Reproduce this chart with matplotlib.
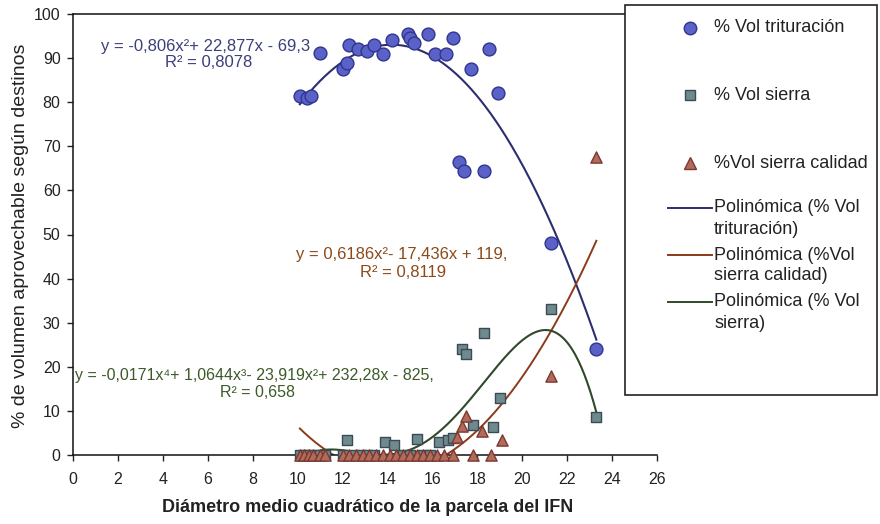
import numpy as np
import matplotlib
matplotlib.use("Agg")
import matplotlib.pyplot as plt
from matplotlib.lines import Line2D
from matplotlib.patches import Rectangle

plt.rcParams['font.family'] = ['Liberation Sans', 'DejaVu Sans']

# ---------------- data ----------------
trit_x = [10.1, 10.4, 10.6, 11.0, 12.0, 12.2, 12.3, 12.7, 13.1, 13.4, 13.8, 14.2, 14.9, 15.0,
          15.2, 15.8, 16.1, 16.6, 16.9, 17.2, 17.4, 17.7, 18.3, 18.5, 18.9, 21.3, 23.3]
trit_y = [81.5, 81.0, 81.5, 91.2, 87.5, 89.0, 93.0, 92.0, 91.5, 93.0, 91.0, 94.0, 95.5, 94.5,
          93.5, 95.5, 91.0, 91.0, 94.5, 66.5, 64.5, 87.5, 64.5, 92.0, 82.0, 48.0, 24.0]

sierra_x = [10.1, 10.3, 10.5, 10.7, 11.0, 11.2, 12.0, 12.2, 12.5, 12.8, 13.1, 13.4, 13.9, 14.3,
            14.7, 15.0, 15.3, 15.6, 15.9, 16.3, 16.7, 16.9, 17.3, 17.5, 17.8, 18.3, 18.7, 19.0,
            21.3, 23.3]
sierra_y = [0, 0, 0, 0, 0, 0, 0, 3.4, 0, 0, 0, 0, 3.0, 2.3,
            0, 0, 3.6, 0, 0, 3.0, 3.4, 3.9, 24.0, 23.0, 6.8, 27.7, 6.4, 13.0,
            33.0, 8.6]

calidad_x = [10.1, 10.3, 10.5, 10.7, 11.0, 11.2, 12.0, 12.3, 12.6, 12.9, 13.2, 13.5, 13.8, 14.1,
             14.4, 14.7, 15.0, 15.3, 15.6, 15.9, 16.2, 16.5, 16.9, 17.1, 17.3, 17.5, 17.8, 18.2,
             18.6, 19.1, 21.3, 23.3]
calidad_y = [0, 0, 0, 0, 0, 0, 0, 0, 0, 0, 0, 0, 0, 0,
             0, 0, 0, 0, 0, 0, 0, 0, 0, 4.0, 6.5, 8.8, 0, 5.5,
             0, 3.5, 18.0, 67.5]

# trendline coefficients as printed on the chart
trit_coef = [-0.806, 22.877, -69.3]
calidad_coef = [0.6186, -17.436, 119.0]

x_ticks = list(range(0, 27, 2))
y_ticks = list(range(0, 101, 10))

eq_trit = ["y = -0,806x²+ 22,877x - 69,3", "R² = 0,8078"]
eq_cal = ["y = 0,6186x²- 17,436x + 119,", "R² = 0,8119"]
eq_sie = ["y = -0,0171x⁴+ 1,0644x³- 23,919x²+ 232,28x - 825,", "R² = 0,658"]

legend_labels = ["% Vol trituración", "% Vol sierra", "%Vol sierra calidad",
                 "Polinómica (% Vol\ntrituración)", "Polinómica (%Vol\nsierra calidad)",
                 "Polinómica (% Vol\nsierra)"]

# ---------------- styles ----------------
C_BLUE_F, C_BLUE_E, C_BLUE_L = '#5a62c8', '#2f3590', '#2b2f6e'
C_SQ_F, C_SQ_E = '#6f8a8c', '#3a4a58'
C_TR_F, C_TR_E = '#b26a5c', '#7a3a30'
C_RED_L = '#8b3a1a'
C_GRN_L = '#2f4a2a'
C_BLUE_T, C_RED_T, C_GRN_T = '#3b3f7a', '#8b4a1a', '#3d5a2a'

W, H = 880, 524
fig = plt.figure(figsize=(W / 100, H / 100), dpi=100)
fig.patch.set_facecolor('white')

def fx(px):
    return px / W

def fy(py):
    return 1 - py / H

ax = fig.add_axes([fx(73), fy(455), (657 - 73) / W, (455 - 14) / H])
ax.set_xlim(0, 26)
ax.set_ylim(0, 100)
ax.set_facecolor('white')
for s in ['left', 'bottom', 'top']:
    ax.spines[s].set_linewidth(1.1)
    ax.spines[s].set_color('#111111')
ax.spines['right'].set_visible(False)
ax.set_xticks(x_ticks)
ax.set_yticks(y_ticks)
ax.tick_params(axis='both', direction='out', length=4, width=1, labelsize=11.5,
               labelcolor='#222222', color='#222222')
ax.tick_params(axis='x', pad=8)
ax.tick_params(axis='y', pad=5)

# trendlines
xmin = min(trit_x + sierra_x + calidad_x)
xmax = max(trit_x + sierra_x + calidad_x)
xs = np.linspace(xmin, xmax, 300)
ax.plot(xs, np.polyval(trit_coef, xs), color=C_BLUE_L, lw=1.5, zorder=2)
ax.plot(xs, np.polyval(calidad_coef, xs), color=C_RED_L, lw=1.4, zorder=2)
sie_coef = np.polyfit(sierra_x, sierra_y, 4)
ax.plot(xs, np.polyval(sie_coef, xs), color=C_GRN_L, lw=1.5, zorder=2)

# markers
ax.scatter(trit_x, trit_y, s=85, marker='o', facecolor=C_BLUE_F, edgecolor=C_BLUE_E,
           linewidth=1.0, zorder=3, clip_on=False)
ax.scatter(sierra_x, sierra_y, s=55, marker='s', facecolor=C_SQ_F, edgecolor=C_SQ_E,
           linewidth=1.0, zorder=3, clip_on=False)
ax.scatter(calidad_x, calidad_y, s=65, marker='^', facecolor=C_TR_F, edgecolor=C_TR_E,
           linewidth=1.0, zorder=4, clip_on=False)

# equations
ax.text(5.9, 92.6, eq_trit[0], color=C_BLUE_T, fontsize=12, ha='center', va='center')
ax.text(6.05, 88.9, eq_trit[1], color=C_BLUE_T, fontsize=12, ha='center', va='center')
ax.text(14.65, 45.4, eq_cal[0], color=C_RED_T, fontsize=12, ha='center', va='center')
ax.text(14.7, 41.3, eq_cal[1], color=C_RED_T, fontsize=12, ha='center', va='center')
ax.text(0.1, 18.1, eq_sie[0], color=C_GRN_T, fontsize=11.5, ha='left', va='center')
ax.text(8.2, 14.1, eq_sie[1], color=C_GRN_T, fontsize=11.5, ha='center', va='center')

# axis labels
fig.text(fx(368), fy(507), "Diámetro medio cuadrático de la parcela del IFN",
         fontsize=13, fontweight='bold', ha='center', va='center', color='#222222')
fig.text(fx(21), fy(236), "% de volumen aprovechable según destinos", rotation=90,
         fontsize=14, ha='center', va='center', color='#222222')

# legend (drawn in figure pixel layout)
box_l, box_r, box_t, box_b = 625, 877, 5, 395
fig.patches.append(Rectangle((fx(box_l), fy(box_b)), (box_r - box_l) / W, (box_b - box_t) / H,
                             transform=fig.transFigure, facecolor='white', edgecolor='#222222',
                             linewidth=1.2, zorder=5))
hx0, hx1, tx = 668, 712, 714
mx = (hx0 + hx1) / 2
marker_entries = [
    (28, 'o', C_BLUE_F, C_BLUE_E, 9),
    (95, 's', C_SQ_F, C_SQ_E, 7.5),
    (163, '^', C_TR_F, C_TR_E, 8),
]
LFS = 13
for i, (yy, mk, fc, ec, ms) in enumerate(marker_entries):
    fig.lines.append(Line2D([fx(mx)], [fy(yy)], marker=mk, markersize=ms, markerfacecolor=fc,
                            markeredgecolor=ec, linestyle='none', transform=fig.transFigure,
                            zorder=6))
    fig.text(fx(tx), fy(yy), legend_labels[i], fontsize=LFS, ha='left', va='center',
             color='#222222', zorder=6)
line_entries = [(208, C_BLUE_L), (255, C_RED_L), (302, C_GRN_L)]
for j, (yy, col) in enumerate(line_entries):
    fig.lines.append(Line2D([fx(hx0), fx(hx1)], [fy(yy), fy(yy)], color=col, lw=1.4,
                            transform=fig.transFigure, zorder=6))
    first, second = legend_labels[3 + j].split('\n')
    fig.text(fx(tx), fy(yy), first, fontsize=LFS, ha='left', va='center', color='#222222',
             zorder=6)
    fig.text(fx(tx), fy(yy + 21), second, fontsize=LFS, ha='left', va='center', color='#222222',
             zorder=6)

fig.savefig('out.png', dpi=100, facecolor='white')
